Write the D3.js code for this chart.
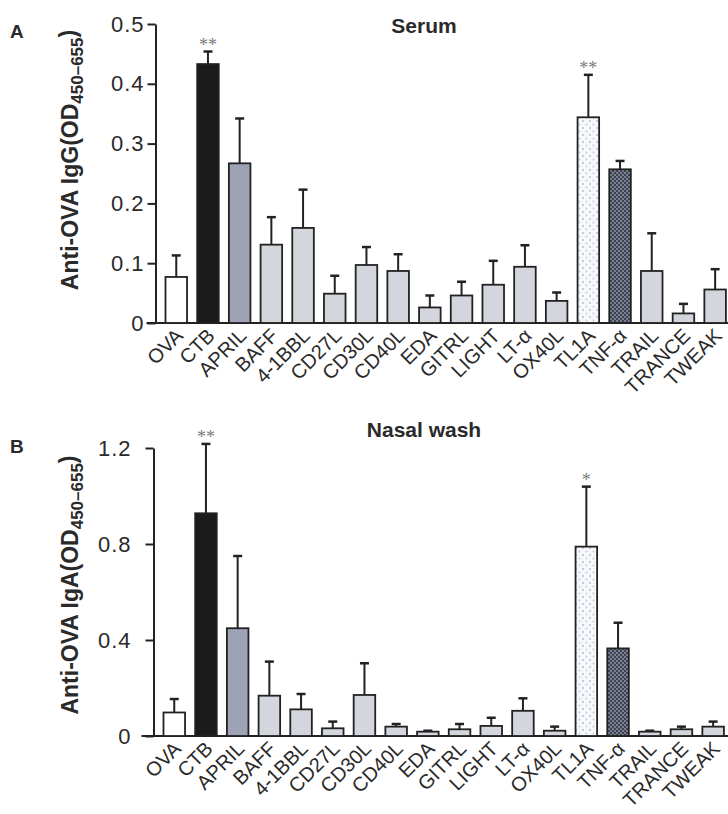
<!DOCTYPE html>
<html>
<head>
<meta charset="utf-8">
<script src="https://cdn.jsdelivr.net/npm/d3@7"></script>
<style>
  body { margin: 0; background: #fff; }
  svg { display: block; font-family: "Liberation Sans", Arial, Helvetica, sans-serif; }
</style>
</head>
<body>
<div id="chart"></div>
<script>
// categories on the x axis (same for both panels)
const categories = ["OVA", "CTB", "APRIL", "BAFF", "4-1BBL", "CD27L", "CD30L", "CD40L", "EDA",
  "GITRL", "LIGHT", "LT-\u03b1", "OX40L", "TL1A", "TNF-\u03b1", "TRAIL", "TRANCE", "TWEAK"];

// panel A - serum IgG
const serumMean = [0.077, 0.433, 0.267, 0.131, 0.159, 0.049, 0.097, 0.087, 0.026,
  0.046, 0.064, 0.094, 0.037, 0.344, 0.257, 0.087, 0.016, 0.056];
const serumErr = [0.036, 0.021, 0.075, 0.046, 0.064, 0.030, 0.030, 0.028, 0.020,
  0.023, 0.040, 0.036, 0.014, 0.071, 0.014, 0.063, 0.016, 0.034];
const serumStars = ["", "**", "", "", "", "", "", "", "", "", "", "", "", "**", "", "", "", ""];
const serumTicks = [0, 0.1, 0.2, 0.3, 0.4, 0.5];

// panel B - nasal wash IgA
const nasalMean = [0.098, 0.928, 0.449, 0.168, 0.111, 0.032, 0.171, 0.039, 0.018,
  0.028, 0.042, 0.105, 0.022, 0.789, 0.365, 0.018, 0.028, 0.039];
const nasalErr = [0.056, 0.289, 0.301, 0.142, 0.064, 0.028, 0.132, 0.011, 0.004,
  0.022, 0.034, 0.052, 0.017, 0.250, 0.107, 0.004, 0.011, 0.021];
const nasalStars = ["", "**", "", "", "", "", "", "", "", "", "", "", "", "*", "", "", "", ""];
const nasalTicks = [0, 0.4, 0.8, 1.2];

const width = 728;
const height = 814;

const svg = d3.select("#chart")
  .append("svg")
  .attr("width", width)
  .attr("height", height)
  .style("background-color", "white");

// fill patterns for TL1A (light dots) and TNF-a (dark check)
const defs = svg.append("defs");
const dots = defs.append("pattern")
  .attr("id", "dots").attr("patternUnits", "userSpaceOnUse")
  .attr("width", 7).attr("height", 7);
dots.append("rect").attr("width", 7).attr("height", 7).attr("fill", "#f7f8fb");
dots.append("circle").attr("cx", 2).attr("cy", 2).attr("r", 0.9).attr("fill", "#aeb6ca");
dots.append("circle").attr("cx", 5.5).attr("cy", 5.5).attr("r", 0.9).attr("fill", "#c2c9d9");

const check = defs.append("pattern")
  .attr("id", "check").attr("patternUnits", "userSpaceOnUse")
  .attr("width", 4).attr("height", 4);
check.append("rect").attr("width", 4).attr("height", 4).attr("fill", "#3e4254");
check.append("rect").attr("width", 2).attr("height", 2).attr("fill", "#7b8091");
check.append("rect").attr("x", 2).attr("y", 2).attr("width", 2).attr("height", 2).attr("fill", "#7b8091");

function barFill(cat) {
  if (cat === "OVA") return "#ffffff";
  if (cat === "CTB") return "#1b1b1d";
  if (cat === "APRIL") return "#9da2b5";
  if (cat === "TL1A") return "url(#dots)";
  if (cat === "TNF-\u03b1") return "url(#check)";
  return "#d4d6de";
}

function drawPanel(opt) {
  const g = svg.append("g");

  const x = d3.scaleBand()
    .domain(categories)
    .range([opt.axisX, opt.axisX + 580.4])
    .paddingInner(0.32)
    .paddingOuter(0.315);

  const y = d3.scaleLinear()
    .domain([0, opt.yMax])
    .range([opt.y0, opt.yTop]);

  // y axis
  const yAxis = d3.axisLeft(y)
    .tickValues(opt.ticks)
    .tickSize(8)
    .tickSizeOuter(0)
    .tickPadding(opt.tickPad)
    .tickFormat(d => d === 0 ? "0" : d3.format(".1f")(d));

  const gy = g.append("g")
    .attr("transform", `translate(${opt.axisX}, 0)`)
    .call(yAxis);
  gy.selectAll("path, line").attr("stroke", "#222").attr("stroke-width", 2);
  gy.selectAll("text")
    .attr("fill", "#2a2a2a")
    .style("font-size", "22px")
    .style("letter-spacing", "1px");

  // baseline (x axis) runs left past the y axis
  g.append("line")
    .attr("x1", opt.axisX - opt.baseExt)
    .attr("x2", width)
    .attr("y1", y(0))
    .attr("y2", y(0))
    .attr("stroke", "#222")
    .attr("stroke-width", 2);

  const rows = categories.map((c, i) => ({ cat: c, v: opt.mean[i], e: opt.err[i], s: opt.stars[i] }));

  // bars
  g.selectAll(".bar")
    .data(rows)
    .enter().append("rect")
    .attr("class", "bar")
    .attr("x", d => x(d.cat))
    .attr("y", d => y(d.v))
    .attr("width", x.bandwidth())
    .attr("height", d => y(0) - y(d.v))
    .attr("fill", d => barFill(d.cat))
    .attr("stroke", "#222")
    .attr("stroke-width", 1.8);

  // error bars (upper only)
  g.selectAll(".stem")
    .data(rows)
    .enter().append("line")
    .attr("class", "stem")
    .attr("x1", d => x(d.cat) + x.bandwidth() / 2)
    .attr("x2", d => x(d.cat) + x.bandwidth() / 2)
    .attr("y1", d => y(d.v))
    .attr("y2", d => y(d.v + d.e))
    .attr("stroke", "#222")
    .attr("stroke-width", 2);

  g.selectAll(".cap")
    .data(rows)
    .enter().append("line")
    .attr("class", "cap")
    .attr("x1", d => x(d.cat) + x.bandwidth() / 2 - 4.5)
    .attr("x2", d => x(d.cat) + x.bandwidth() / 2 + 4.5)
    .attr("y1", d => y(d.v + d.e))
    .attr("y2", d => y(d.v + d.e))
    .attr("stroke", "#222")
    .attr("stroke-width", 2.5);

  // significance stars
  g.selectAll(".star")
    .data(rows.filter(d => d.s))
    .enter().append("text")
    .attr("class", "star")
    .attr("x", d => x(d.cat) + x.bandwidth() / 2)
    .attr("y", d => y(d.v + d.e) - 1)
    .attr("text-anchor", "middle")
    .attr("fill", "#7a7a7a")
    .style("font-family", "'Liberation Serif', 'Times New Roman', serif")
    .style("font-size", "18px")
    .text(d => d.s);

  // category labels, rotated
  g.selectAll(".xlab")
    .data(categories)
    .enter().append("text")
    .attr("class", "xlab")
    .attr("transform", d => `translate(${x(d) + x.bandwidth() / 2 + 8}, ${y(0) + 14}) rotate(-45)`)
    .attr("text-anchor", "end")
    .attr("fill", "#2a2a2a")
    .style("font-size", "20px")
    .text(d => d);

  // y axis title with subscript
  const yt = g.append("text")
    .attr("transform", `translate(78, ${opt.titleY}) rotate(-90)`)
    .attr("text-anchor", "middle")
    .attr("fill", "#2a2a2a")
    .style("font-size", "23px")
    .style("font-weight", "bold");
  yt.append("tspan").text(opt.yTitle);
  yt.append("tspan").attr("dy", "0.32em").style("font-size", "17px").text("450\u2013655");
  yt.append("tspan").attr("dy", "-0.32em").text(")");

  // panel letter and title
  g.append("text")
    .attr("x", 10).attr("y", opt.letterY)
    .attr("fill", "#2a2a2a")
    .style("font-size", "19px").style("font-weight", "bold")
    .text(opt.letter);

  g.append("text")
    .attr("x", 424).attr("y", opt.headY)
    .attr("text-anchor", "middle")
    .attr("fill", "#2a2a2a")
    .style("font-size", "21px").style("font-weight", "bold")
    .text(opt.head);
}

drawPanel({
  axisX: 155.5, y0: 323, yTop: 24, yMax: 0.5, ticks: serumTicks, tickPad: 3, baseExt: 9,
  mean: serumMean, err: serumErr, stars: serumStars,
  yTitle: "Anti-OVA IgG(OD", titleY: 160, letter: "A", letterY: 38, head: "Serum", headY: 33
});

drawPanel({
  axisX: 153.5, y0: 736, yTop: 448, yMax: 1.2, ticks: nasalTicks, tickPad: 14, baseExt: 12,
  mean: nasalMean, err: nasalErr, stars: nasalStars,
  yTitle: "Anti-OVA IgA(OD", titleY: 585, letter: "B", letterY: 453, head: "Nasal wash", headY: 437
});
</script>
</body>
</html>
